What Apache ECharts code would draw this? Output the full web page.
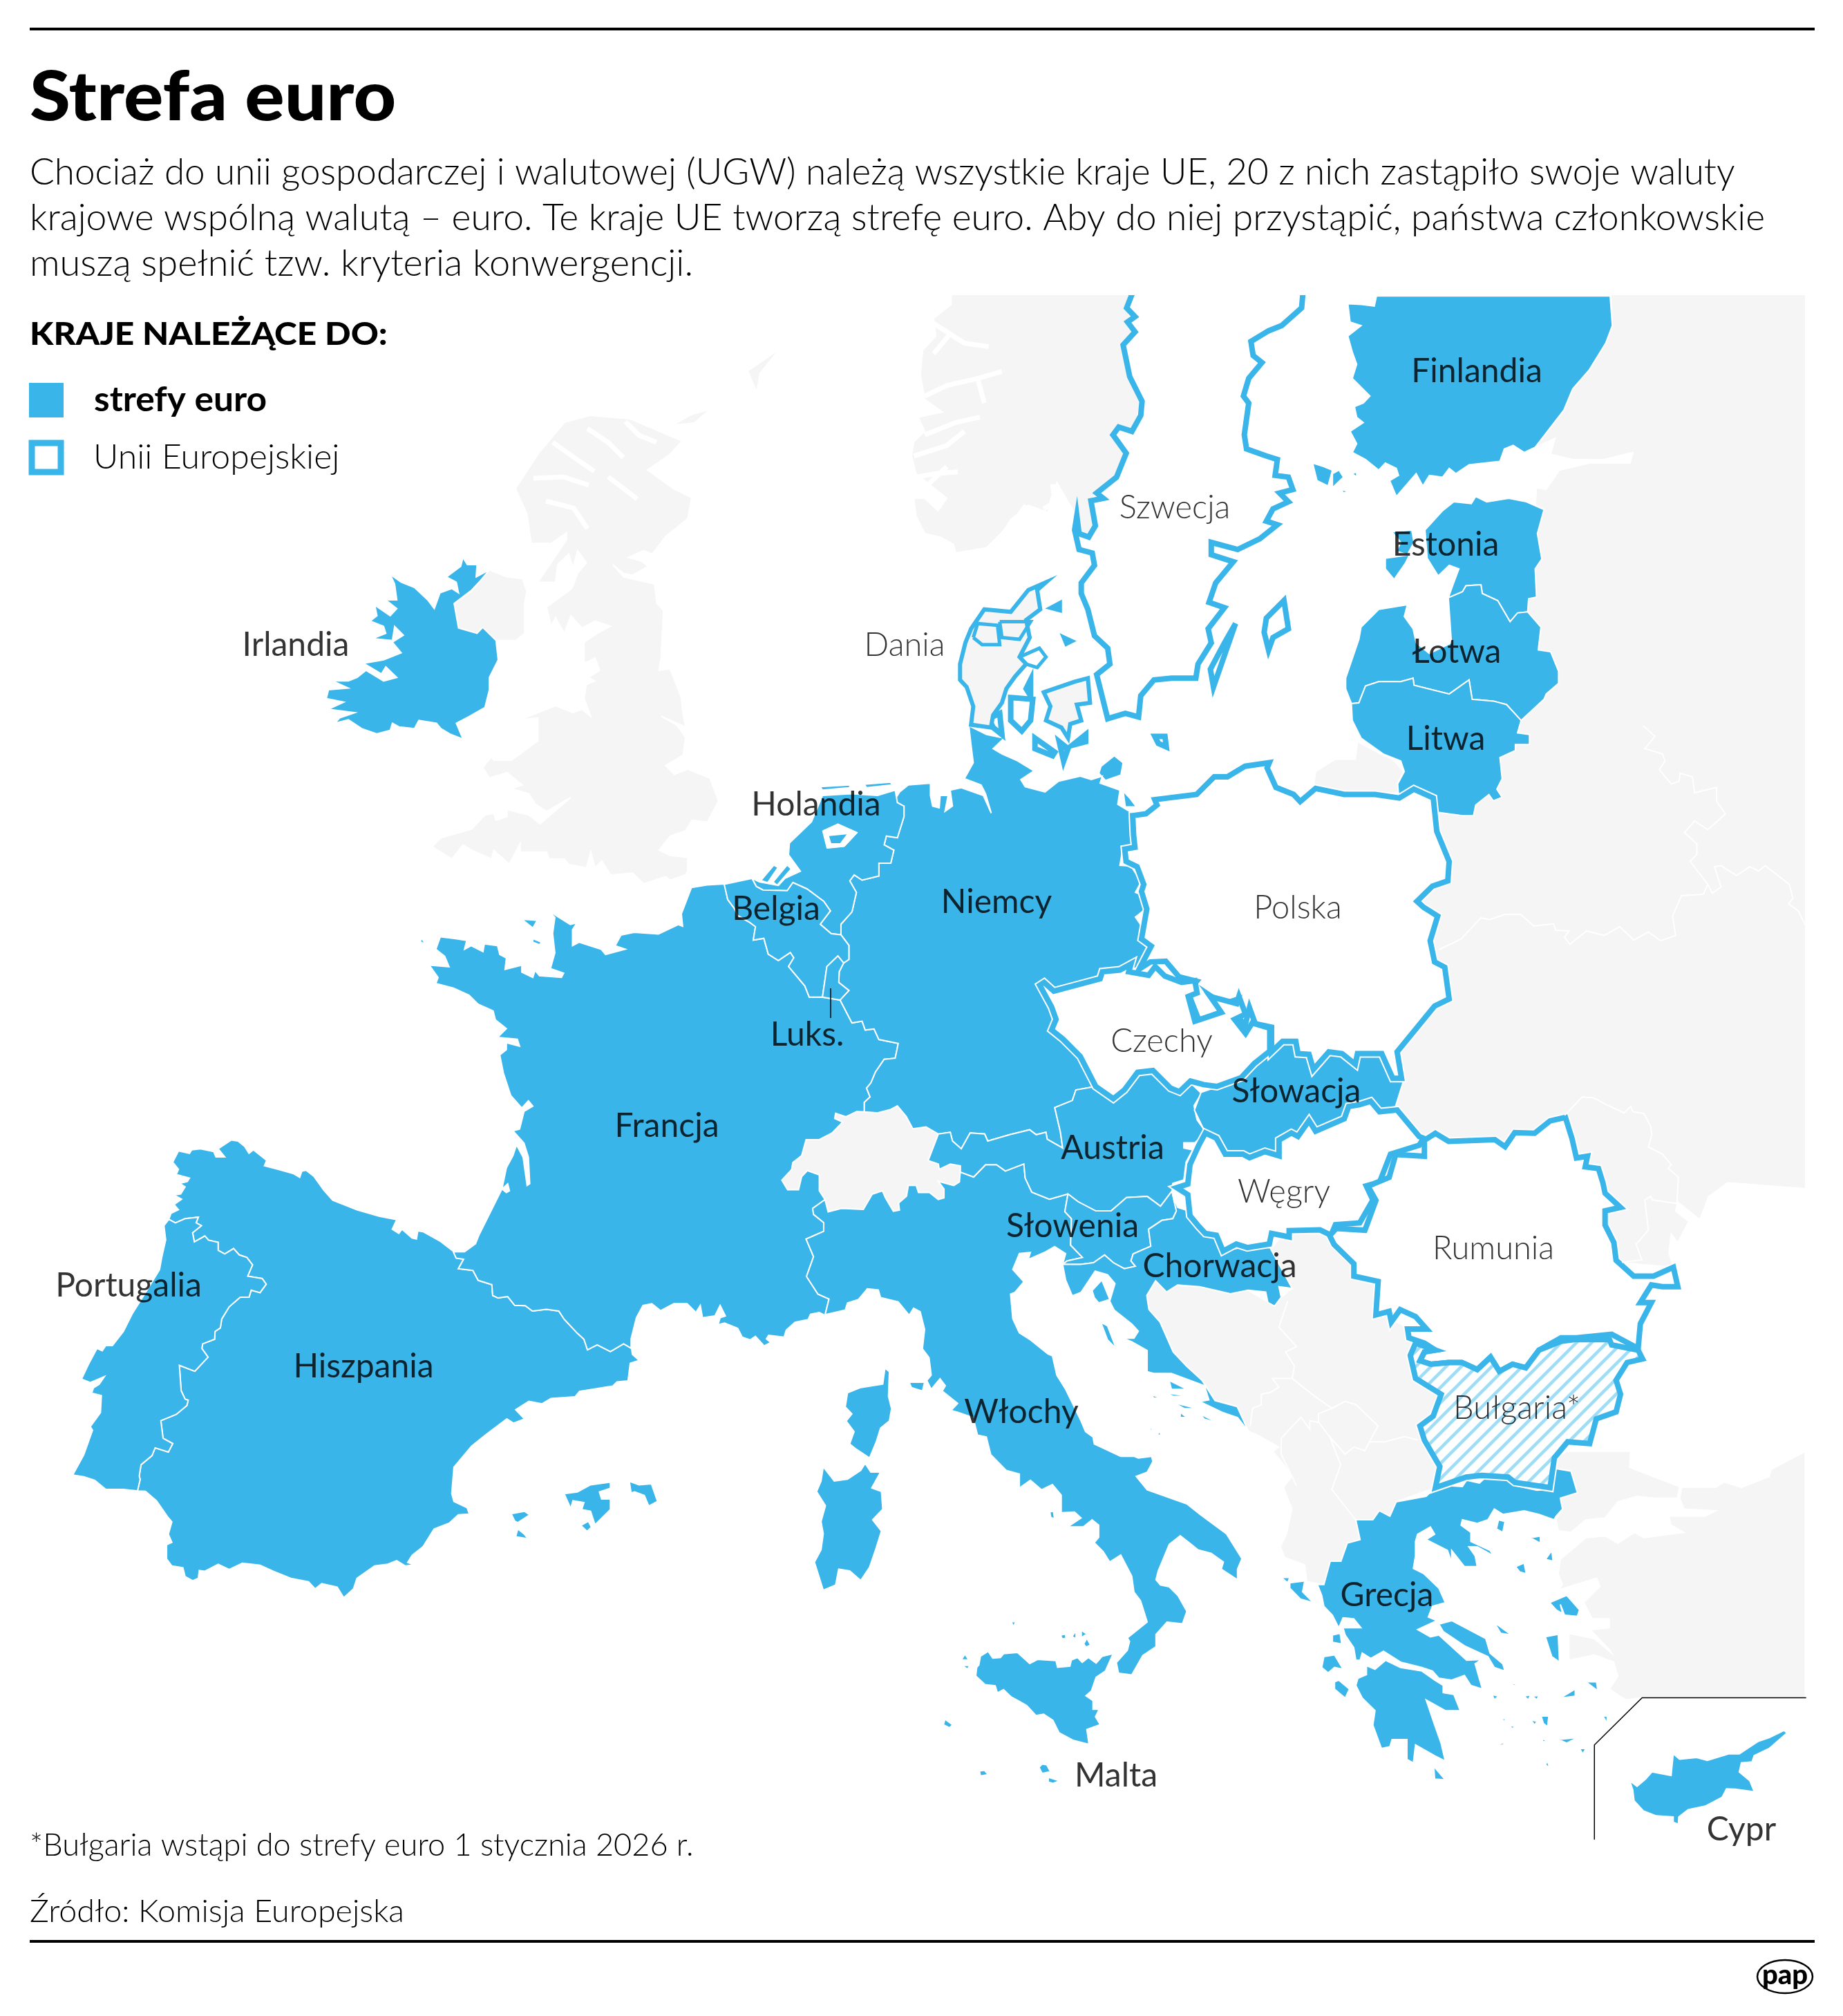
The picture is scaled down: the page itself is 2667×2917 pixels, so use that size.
<!DOCTYPE html>
<html><head><meta charset="utf-8">
<style>html,body{margin:0;padding:0;background:#fff}#c{width:2667px;height:2917px}</style>
<script src="https://cdn.jsdelivr.net/npm/echarts@6/dist/echarts.min.js"></script></head>
<body><div id="c"></div>
<script>
// ---------- text content ----------
const titleText = 'Strefa euro';
const bodyLines = [
 'Chociaż do unii gospodarczej i walutowej (UGW) należą wszystkie kraje UE, 20 z nich zastąpiło swoje waluty',
 'krajowe wspólną walutą – euro. Te kraje UE tworzą strefę euro. Aby do niej przystąpić, państwa członkowskie',
 'muszą spełnić tzw. kryteria konwergencji.'];
const legendTitle = 'KRAJE NALEŻĄCE DO:';
const legendItems = ['strefy euro', 'Unii Europejskiej'];
const footNote = '*Bułgaria wstąpi do strefy euro 1 stycznia 2026 r.';
const sourceNote = 'Źródło: Komisja Europejska';

// ---------- colour groups ----------
const euroNames = ['Irlandia','Francja','Hiszpania','Portugalia','Belgia','Holandia','Luksemburg','Niemcy','Austria','Włochy','Słowenia','Chorwacja','Słowacja','Finlandia','Estonia','Łotwa','Litwa','Grecja','Cypr','Malta'];
const euOnlyNames = ['Szwecja','Dania','Polska','Czechy','Węgry','Rumunia'];

// ---------- labels ----------
const euroLabels = ['Finlandia','Estonia','Irlandia','Łotwa','Litwa','Holandia','Niemcy','Belgia','Luks.','Słowacja','Francja','Austria','Słowenia','Chorwacja','Portugalia','Hiszpania','Włochy','Grecja','Malta','Cypr'];
const euroLabelAt = [[2137,538],[2092,789],[428,934],[2108,944],[2092,1070],[1181,1165],[1442,1306],[1123,1316],[1168,1498],[1876,1580],[965,1630],[1610,1662],[1552,1775],[1765,1833],[186,1861],[526,1978],[1478,2044],[2007,2309],[1615,2570],[2520,2648]];
const euLabels = ['Szwecja','Dania','Polska','Czechy','Węgry','Rumunia','Bułgaria*'];
const euLabelAt = [[1700,735],[1309,934],[1878,1314],[1681,1507],[1858,1725],[2161,1807],[2195,2038]];

// ---------- outlines: zoom-sheet readings, each sheet has its own origin ----------
const sheet = (ox, oy, kx, ky) => f => { const r = []; for (let i = 0; i < f.length; i += 2) r.push([ox + f[i] / kx, oy + f[i + 1] / ky]); return r; };
const z2 = sheet(1300,420,1.568,1.96), z3 = sheet(900,1100,1.568,1.96), z4 = sheet(1500,1400,1.568,1.96),
      z5 = sheet(1700,2100,1.622,1.919), z6 = sheet(0,1600,1.568,1.96), z7 = sheet(500,1200,1.568,1.96),
      z8 = sheet(1000,1750,1.568,1.96), z9 = sheet(300,720,1.568,1.96), z10 = sheet(1620,1050,1.568,1.96), z11 = sheet(1200,2150,2.24,2.8);
const rev = a => a.slice().reverse();

const bFrEs = z6([1028,412,1035,432,1052,435,1040,462,1073,467,1085,495,1116,507,1118,538,1130,545,1152,541,1168,566,1192,567,1208,582,1240,577,1268,582,1280,605,1310,645,1325,662,1333,692,1355,678,1385,697,1415,675,1433,688]);
const bEsPt = z6([383,322,398,332,420,320,450,316,445,332,457,340,437,360,441,386,465,369,473,381,495,387,495,410,510,420,530,405,543,423,560,430,573,451,562,483,595,490,604,506,590,530,570,523,565,543,545,543,520,570,503,605,500,630,488,640,487,662,460,675,458,688,472,713,442,753,407,736,411,808,420,832,427,835,424,850,400,875,365,893,370,943,392,958,382,982,352,970,345,992,320,1018,316,1050,318,1060,312,1092]);
const bFrBe = z3([232,352,240,395,255,420,262,440,290,460,303,472,298,510,322,505,332,550,355,568,382,545,390,560,378,585,415,640,425,672,455,672]);
const bFrLu = z3([455,672,495,680]);
const bFrDe = z3([495,680,522,745,545,740,552,765,572,762,583,792,627,803,620,845,595,848,575,885,565,915,555,930,563,955,550,970,550,997]);
const bFrCh = z7([1177,800,1160,800,1135,815,1112,805,1110,820,1128,830,1105,860,1075,880,1045,880,1035,925,1015,945,1012,965,990,995,1003,1022,1028,1022,1035,985,1048,968,1075,980,1075,1025,1088,1050]);
const bFrIt = z7([1088,1050,1060,1075,1062,1092,1085,1115,1085,1140,1045,1162,1062,1212,1046,1268,1072,1318,1097,1332,1088,1378]);
const bBeNl = z3([295,335,305,358,320,368,375,370,388,347,420,365,458,400,473,427,450,465,475,492,497,495]);
const bBeDe = z3([497,495,515,525,515,565,503,575]);
const bBeLu = z3([503,575,490,555,465,585,455,672]);
const bLuDe = z3([503,575,493,600,492,630,515,653,495,680]);
const bNlDe = z3([640,130,640,160,625,220,600,215,595,240,617,255,610,292,583,292,583,328,545,340,527,325,517,342,532,375,522,430,497,465,497,495]);
const bDeCh = z3([550,997,580,1000,610,990,625,980,645,1010,660,1045,690,1040,718,1060]);
const bDeAt = z3([718,1060,745,1055,750,1080,770,1102,790,1057,823,1060,830,1080,880,1062,925,1048,940,1062,962,1055,965,1075,1000,1100,995,1055,982,985,1022,965,1030,935,1075,925]);
const bAtCh = z3([718,1060,695,1135,718,1145,720,1160,745,1145,768,1150,768,1168]);
const bAtIt = z3([768,1168,798,1182,825,1147,850,1147,870,1165,912,1145,915,1185,930,1225,970,1245,1012,1230]);
const bAtSi = z3([1012,1230,1035,1252,1075,1278,1110,1278,1145,1240,1192,1237,1222,1265,1248,1222]);
const bItSi = z3([1012,1230,1005,1280,1020,1300,1018,1375,1045,1410,1010,1420,1000,1430]);
const bSiHr = z3([1248,1222,1258,1278,1250,1300,1225,1305,1195,1330,1200,1378,1160,1400,1155,1420,1165,1435,1140,1442,1115,1425,1095,1403,1070,1425,1040,1430,1000,1430]);
const bChIt = z7([1088,1050,1095,1085,1125,1075,1175,1078,1195,1035,1218,1025,1225,1045,1243,1083,1257,1080,1255,1060,1273,1040,1277,1010,1295,1010,1300,1030,1325,1030,1345,1050,1358,1045,1358,1020,1345,998,1380,1010,1393,1000,1395,970]);

const coastEsN = z6([1028,412,1000,385,960,357,948,355,945,378,935,375,912,350,905,362,890,350,900,323,860,313,810,295,755,268,735,240,712,200,695,183,685,185,680,203,665,192,630,180,600,170,605,155,575,125,565,135,555,115,540,100,525,97,495,122,510,145,490,145,485,130,455,122,435,125,430,135,405,128,392,160,405,180,400,195,430,205,425,215,408,220,420,230,410,250,395,253,412,265,395,280,405,295,388,305,383,322]);
const coastPt = z6([383,322,372,340,376,380,367,430,362,465,330,530,300,590,280,640,255,680,240,680,232,695,220,688,200,735,185,775,205,785,237,768,225,790,212,800,208,815,230,822,228,870,205,910,210,920,190,990,165,1047,190,1052,215,1062,240,1088,280,1088,312,1092]);
const coastEsS = z6([312,1092,330,1093,355,1120,380,1165,390,1180,382,1215,390,1238,378,1245,378,1285,390,1305,415,1310,420,1335,437,1347,450,1340,452,1318,465,1320,495,1300,520,1315,550,1297,590,1303,620,1320,660,1340,700,1350,715,1370,730,1355,765,1365,780,1395,802,1370,810,1340,850,1305,880,1300,900,1290,920,1305,940,1302,925,1295,935,1275,960,1250,985,1200,1020,1183,1040,1160,1065,1158,1060,1140,1030,1122,1025,1100,1030,1025,1070,965,1100,935,1150,888,1165,900,1190,888,1170,862,1200,838,1230,845,1250,830,1305,825,1315,810,1390,795,1400,783,1425,780,1430,730,1450,722,1435,705,1433,688]);
const isBal = [z6([1280,1100,1310,1095,1340,1075,1385,1067,1385,1085,1360,1095,1365,1115,1385,1115,1385,1145,1350,1188,1340,1150,1320,1145,1325,1125,1300,1120,1295,1142]),
 z6([1428,1065,1450,1075,1478,1072,1492,1122,1472,1135,1462,1105,1440,1095,1432,1098]), z6([1160,1157,1190,1150,1202,1160,1175,1182,1168,1178]),
 z6([1175,1200,1190,1215,1198,1228,1170,1222]), z6([1318,1190,1335,1178,1342,1195,1332,1207])];
const andorra = z6([1272,605,1300,600,1312,625,1305,645,1282,660,1262,645,1268,620]);

const coastFrW = z7([245,1198,270,1198,295,1175,303,1150,355,1020,365,1030,372,1025,368,1005,355,1020,365,960,380,925,388,895,403,930,412,1010,418,1005,415,930,405,890,380,855,395,850,405,800,425,785,415,770,400,790,375,755,358,690,350,640,365,625,365,605,395,615,390,595,345,590,365,565,340,540,335,515,300,495,280,470,245,450,205,437,210,420,190,385,235,390,225,360,205,340,215,305,250,310,275,315,270,340,285,330,312,347,315,325,345,330,350,355,365,365,362,397,400,385,400,405,425,420,430,400,440,415,490,420,495,408,465,395,475,350,470,295,475,250,460,228,478,245,510,270,525,265,515,285,515,330,530,320,580,340,590,355,635,340,612,330,625,300,655,292,710,297,755,270,765,275,762,240,785,165,820,158,860,155]);
const coastFrS = z7([1088,1378,1075,1370,1055,1375,1050,1390,1020,1398,1000,1420,995,1440,960,1435,955,1445,965,1455,950,1465,930,1438,918,1448,900,1440,890,1415,860,1400,845,1405,850,1385,862,1380,850,1350,838,1380,810,1385,805,1350,795,1370,775,1345,745,1345,715,1365,695,1345,675,1350,660,1385,648,1445,648,1468]);
const isFr = [z7([400,255,435,258,425,280]), z7([425,310,445,320,440,327,425,320]), z7([172,308,182,325,170,320])];

const coastDeN = [...z3([1165,155,1125,125,1130,85,1085,65,1090,45,1065,55,1040,45,990,60,960,90,915,75,905,55,935,30,895,0]),
 ...z2([268,1333,235,1315,215,1300,240,1270,200,1260,160,1235,165,1290,170,1340,150,1385]),
 ...z3([777,51,815,70,825,95,838,150,820,100,770,78,745,85,750,130,733,145,740,100,722,100,720,135,705,130,700,100,700,65,650,70,630,90,620,110,630,130,640,130])];
const eastDe = z3([1075,925,1040,840,1000,790,985,735,975,700,965,650,1090,610,1150,590,1175,590,1195,535,1178,515,1190,490,1165,445,1190,420,1185,385,1165,375,1178,345,1155,300,1130,298,1135,260,1160,240,1165,155]);
const isDe = [z2([460,1350,490,1320,510,1340,505,1375,470,1390,455,1370]), z2([510,1420,525,1440,540,1465,515,1465])];
const coastNl = z3([295,335,312,345,355,355,370,335,405,315,378,268,380,235,405,205,430,175,445,130,455,100,520,95,580,100,620,85,625,120,640,130]);
const coastBe = z3([232,352,295,335]);
const isNl = [z3([450,75,520,70,515,78,455,85]), z3([550,68,610,62,612,70,555,78])];
const eastAt = z3([1248,1222,1250,1200,1275,1190,1280,1140,1295,1105,1275,1100,1275,1085,1300,1085,1325,1055,1305,1020,1298,980,1315,945,1290,915,1265,940,1245,930,1205,880,1170,885,1140,935,1115,960,1075,925]);

const coastIt = z8([850,125,825,105,805,120,765,142,770,122,745,125,730,170,755,205,735,235,725,240,730,310,745,350,770,370,810,410,820,415,830,470,850,510,885,600,895,630,912,645,915,665,975,700,1005,700,1015,705,1045,700,1048,715,1035,745,1010,757,1035,795,1125,835,1155,865,1215,920,1250,990,1240,1020,1240,1050,1203,1020,1208,1000,1180,975,1150,965,1130,945,1110,925,1085,950,1065,1010,1060,1025,1055,1050,1065,1065,1085,1070,1105,1095,1125,1140,1115,1175,1080,1170,1055,1205,1055,1240,1025,1265,1000,1320,970,1315,965,1285,990,1250,995,1225,990,1215,1035,1170,1020,1110,1005,1085,1000,1040,975,980,950,1000,935,970,915,945,925,930,925,895,910,880,890,900,855,900,885,875,870,858,840,860,840,810,820,780,795,795,770,768,745,790,745,750,715,740,680,695,670,645,650,640,640,590,605,575,590,570,605,550,570,515,577,500,565,480,545,510,535,485,545,470,540,420,525,395,530,340,520,290,505,280,495,300,470,262,430,250,425,228,400,225,380,255,355,265,350,285,305,298]);
const isIt = [z8([440,450,450,460,448,530,455,565,450,600,430,620,420,660,405,705,375,680,360,665,370,630,352,600,365,580,350,560,355,520,385,505,435,495]),
 z8([300,730,325,770,355,765,385,740,395,720,408,745,430,745,410,790,432,800,435,850,412,880,432,912,420,960,405,1015,385,1052,360,1025,335,1020,328,1065,300,1080,290,1040,280,1000,295,965,300,920,295,885,305,840,285,800,295,770]),
 z11([490,690,515,670,530,698,555,695,565,680,610,675,650,720,675,703,735,708,740,735,780,730,785,705,805,695,820,715,840,695,865,718,885,690,920,680,895,750,865,775,850,830,832,850,855,870,855,905,875,905,863,935,878,967,835,987,842,1047,790,1030,745,1000,725,950,695,925,670,930,640,890,612,870,590,855,565,825,545,838,538,810,505,805,475,770,478,735,485,725]),
 z11([440,682,452,705,428,705]), z11([430,727,456,727,448,742]), z11([750,605,765,600,768,617,755,620]), z11([800,587,800,620,787,610]), z11([817,585,835,600,817,615]),
 z11([835,617,847,645,832,653,825,640]), z11([590,550,605,550,597,570]), z11([375,945,400,968,390,980,370,968]), z11([715,105,727,103,730,133,718,128]), z8([495,490,530,490,525,515,500,505])];
const isMt = [z11([680,1140,690,1127,705,1130,717,1158,690,1165]), z11([710,1180,747,1195,725,1205,710,1200]), z11([487,1155,503,1152,515,1170,490,1175])];

const coastHr = z8([843,157,850,200,865,245,885,235,917,175,945,185,962,210,950,260,960,285,1000,325,1015,345,1005,365,980,365,1000,375,1035,400,1035,460,1050,465,1090,465,1165,500,1175,540,1155,545,1205,575,1240,590,1265,630]);
const inlandHr = z4([455,1245,405,1228,375,1170,340,1130,310,1090,280,1005,255,970,250,930,270,888,295,920,320,900,370,905,440,925,480,915,520,920,525,950,540,960,555,935,550,905,580,910,530,795,480,790,440,800,420,790,390,750,370,720,345,690,320,680]);
const isHr = [z8([910,230,932,200,950,255,925,265,915,250]), z8([930,320,945,330,965,395,945,370]), z8([1085,485,1125,510,1090,510]), z8([1075,520,1135,530,1095,530]), z8([1095,548,1150,565,1120,565]), z8([1155,580,1195,605,1165,595]), z8([1110,575,1125,590,1110,590]), z8([1045,525,1065,535,1050,535]), z8([1042,615,1050,630,1042,625]), z8([1062,630,1068,640,1058,640])];

const skOutline = z10([345,925,370,895,400,895,405,930,430,932,440,975,475,925,505,930,535,960,540,930,595,930,620,1000,645,1005,625,1085,590,1095,570,1065,545,1075,520,1080,510,1115,445,1150,430,1120,405,1165,390,1155,362,1175,362,1220,330,1208,295,1225,280,1215,240,1215,220,1170,195,1155,170,1090,185,1040,220,1025,260,1010,295,960]);
const huOutline = z10([195,1155,220,1170,240,1215,280,1215,295,1225,330,1208,362,1220,362,1175,390,1155,405,1165,430,1120,445,1150,510,1115,520,1080,545,1075,570,1065,590,1095,630,1090,680,1165,690,1170,680,1190,615,1215,590,1295,560,1305,575,1345,545,1410,490,1415,480,1445,455,1430,385,1432,385,1450,345,1440,340,1470,290,1480,265,1470,235,1490,220,1445,195,1440,180,1420,160,1390,155,1330,130,1310,155,1300,160,1245,180,1190]);
const plOutline = z10([30,255,60,250,85,225,80,210,110,205,175,195,215,145,245,145,285,115,340,105,335,120,355,175,395,195,410,215,445,178,510,195,580,195,635,205,668,180,712,205,720,300,748,385,745,440,710,455,675,498,690,515,722,540,705,610,715,670,738,685,748,775,715,795,630,925,640,1000,620,1000,595,930,540,930,535,960,505,930,475,925,440,975,430,932,405,930,400,895,370,895,345,925,345,855,308,845,295,800,285,850,262,815,270,775,235,790,205,765,232,812,180,835,155,755,175,725,135,712,105,668,70,670,45,690,72,625,50,605,62,520,50,470,55,450,40,400,15,385,12,350,35,345,32,310]);
const czOutline = z3([958,630,980,655,1040,635,1085,620,1090,600,1130,595,1155,578,1150,600,1195,610,1210,585,1232,612,1270,630,1300,625,1305,660,1285,670,1300,740,1360,715,1335,670,1395,690,1400,670,1415,720,1390,735,1415,775,1430,745,1470,760,1470,825,1435,860,1405,900,1350,925,1320,920,1290,910,1265,940,1245,930,1205,880,1170,885,1140,935,1115,960,1075,925,1040,840,1000,790,975,765,985,735,975,700,948,638]);
const roOutline = z4([905,470,935,493,1040,488,1063,508,1085,468,1130,470,1165,435,1200,425,1215,485,1225,540,1250,535,1245,565,1275,570,1285,610,1290,640,1325,680,1290,690,1290,730,1310,780,1315,830,1355,875,1400,875,1445,850,1455,905,1420,905,1395,900,1370,950,1395,950,1370,1010,1365,1080,1305,1040,1225,1050,1190,1050,1140,1085,1110,1135,1080,1125,1050,1145,1030,1105,1000,1140,965,1120,935,1120,895,1125,870,1115,880,1090,905,1085,880,1065,845,1050,842,1025,885,1025,860,990,825,970,805,1005,800,975,770,985,775,890,720,875,720,840,675,785,665,760,680,740,745,745,770,660,752,620,800,595,815,530,880,535,880,490]);
const bgOutline = z4([860,1065,848,1100,860,1165,918,1210,900,1272,870,1300,880,1340,915,1415,905,1475,975,1445,1010,1440,1070,1445,1085,1460,1165,1475,1175,1390,1205,1345,1255,1350,1270,1280,1315,1260,1325,1210,1315,1170,1340,1120,1375,1110,1365,1085,1305,1070,1300,1055,1220,1055,1190,1060,1140,1085,1110,1135,1080,1125,1050,1145,1030,1105,1000,1140,965,1120,935,1120,895,1125,870,1115,880,1090,905,1085]);

const seOutline = z2([540,-20,518,50,537,75,520,90,537,118,510,155,525,245,553,315,550,355,530,400,500,388,487,410,517,462,495,530,450,575,465,590,437,597,447,668,432,700,410,690,405,640,400,680,410,735,440,745,445,780,415,830,415,860,430,905,445,980,475,1015,480,1060,450,1090,470,1190,475,1215,515,1200,545,1210,550,1150,580,1105,620,1100,675,1100,680,1060,710,1000,703,960,740,900,705,885,720,830,760,770,710,750,710,715,770,735,820,705,860,665,835,655,850,620,885,600,865,575,895,565,885,530,855,525,860,480,835,470,790,450,785,410,795,320,783,300,795,250,825,205,805,185,800,145,840,115,870,100,915,50,920,-20]);
const isSe = [z2([875,880,885,960,850,985,840,1020,830,970,835,930]), z2([765,945,740,1000,708,1075,715,1125])];
const dkMain = z2([335,828,315,850,322,905,290,935,298,985,275,1040,290,1060,265,1095,245,1130,235,1170,215,1205,210,1240,165,1232,170,1180,155,1125,140,1105,140,1060,152,1000,165,960,195,905,255,912,295,850]);
const dkSeeland = z2([330,1140,400,1110,430,1100,435,1170,405,1175,415,1220,390,1230,385,1270,370,1240,335,1220,345,1180]);
const isDk = [z2([255,1155,305,1160,300,1220,280,1250,255,1220]), z2([310,1270,355,1310,350,1320,310,1300]), z2([365,1280,385,1300,375,1335]), z2([395,1290,425,1260,425,1280]), z2([205,1215,230,1200,235,1260,215,1240]), z2([300,1105,300,1150,290,1130]), z2([350,900,365,890,365,905]), z2([378,988,390,995,382,1000]), z2([582,1265,605,1265,608,1295,590,1285])];
const dkLoops = [z2([170,985,190,1005,230,1005,225,950,180,945,170,985]), z2([230,940,300,940,275,990,235,985,230,940]), z2([275,1040,320,1015,335,1040,315,1070,290,1060])];

const fiOutline = z2([1085,16,1080,45,1050,40,1020,38,1025,90,1050,100,1020,130,1030,175,1040,210,1030,250,1070,300,1055,320,1035,330,1040,360,1055,375,1025,400,1040,435,1030,460,1060,480,1090,510,1105,490,1130,505,1135,525,1115,540,1130,585,1175,520,1190,555,1205,525,1235,530,1250,505,1265,520,1295,495,1365,485,1375,450,1395,440,1420,460,1445,445,1510,340,1530,280,1568,225,1605,150,1620,100,1615,16]);
const isFi = [z2([940,490,965,500,985,510,975,555,950,540]), z2([985,520,1000,510,1010,530,985,560]), z2([1030,520,1040,515,1040,530]), z2([1005,565,1020,570,1010,575])];
const eeOutline = z2([1195,680,1235,625,1260,600,1300,605,1310,585,1335,600,1385,590,1425,600,1465,622,1450,690,1460,762,1445,790,1448,870,1430,875,1428,912,1405,915,1388,940,1360,880,1325,860,1322,835,1288,838,1280,855,1248,872,1260,830,1272,790,1250,780,1225,810,1200,760]);
const isEe = [z2([1120,685,1165,680,1170,715,1155,750,1130,740,1140,715]), z2([1105,760,1160,750,1150,775,1125,820,1105,790])];
const lvOutline = z2([1248,872,1280,855,1288,838,1322,835,1325,860,1360,880,1388,940,1405,915,1428,912,1458,955,1452,1020,1480,1025,1498,1080,1498,1115,1470,1145,1465,1160,1413,1220,1380,1175,1350,1165,1302,1160,1295,1105,1250,1145,1170,1120,1168,1100,1140,1110,1090,1110,1060,1122,1045,1170,1028,1172,1015,1130,1015,1100,1045,990,1050,955,1090,905,1155,892,1148,925,1168,960,1175,1000,1205,1030,1255,1000]);
const ltOutline = z2([1028,1172,1045,1170,1060,1122,1090,1110,1140,1110,1168,1100,1170,1120,1250,1145,1295,1105,1302,1160,1350,1165,1380,1175,1413,1220,1405,1255,1432,1260,1432,1288,1400,1288,1400,1305,1365,1325,1370,1385,1358,1415,1370,1438,1350,1448,1340,1430,1310,1460,1305,1490,1280,1490,1220,1480,1215,1440,1170,1412,1135,1430,1133,1400,1148,1365,1140,1335,1100,1315,1050,1270,1030,1220]);

const grMain = z5([605,108,640,95,675,98,685,80,715,88,730,72,790,75,800,95,850,108,880,105,895,48,930,55,945,115,905,130,910,160,895,180,890,190,855,175,820,165,770,175,750,160,735,190,710,200,675,190,672,205,695,225,695,250,740,275,748,290,710,265,690,265,705,290,710,320,680,320,650,275,650,300,655,325,640,275,590,245,610,230,600,210,570,230,565,250,565,290,560,325,585,340,620,380,635,420,605,430,595,460,615,470,570,495,600,515,620,510,685,580,720,578,705,590,722,660,695,650,680,622,650,635,620,630,605,610,580,600,530,585,490,555,460,575,440,560,435,580,425,580,420,545,400,510,395,490,437,490,420,465,395,462,385,490,370,455,350,430,345,400,335,370,350,370,365,305,390,305,405,255,435,245,425,190,465,190,480,165,505,180,520,140,590,125]);
const grPelop = z5([450,595,470,605,495,580,530,600,580,610,610,635,630,650,630,670,655,675,670,720,635,720,590,690,610,760,625,810,635,860,610,845,565,815,560,865,545,855,545,800,510,800,505,820,485,825,465,760,470,720,440,685,425,650,430,630,450,620]);
const isGr = [z5([620,480,650,470,730,520,740,560,770,590,775,610,750,600,735,570,680,540,630,500]), z5([760,190,775,195,770,225,755,215]), z5([835,240,858,235,858,255]), z5([880,420,920,400,950,440,945,458,915,455,905,425,910,450,895,440]), z5([870,515,900,508,903,585,885,570]), z5([800,320,820,310,825,340,810,335]), z5([870,300,885,275,888,305]), z5([750,475,790,510,765,505]), z5([250,350,270,350,265,365]), z5([270,365,305,360,300,390,325,420,295,410,270,380]), z5([370,510,388,505,392,535,370,530]), z5([350,570,375,565,395,605,375,600,360,615,345,600]), z5([375,640,385,635,410,660,400,685,375,660]), z5([608,875,635,912,610,910]), z5([745,675,760,680,750,690]), z5([770,740,778,745,770,750]), z5([835,745,850,750,845,760]), z5([860,735,878,735,875,765,865,755]), z5([900,800,945,795,920,810]), z5([905,685,940,660,940,680]), z5([965,640,990,640,993,665]), z5([745,820,780,805,770,815]), z5([790,640,810,655,795,650]), z5([1005,735,1015,735,1015,755]), z5([950,825,965,825,958,840]), z5([865,798,875,808,862,805]), z5([840,680,855,678,850,690]), z5([875,860,880,880,870,870]), z5([820,680,835,676,830,690]), z5([785,760,800,765,792,770])];
const cyOutline = z5([1068,915,1085,930,1105,910,1120,890,1165,900,1170,840,1185,855,1225,850,1250,858,1300,840,1325,840,1370,805,1395,795,1430,775,1437,782,1395,825,1360,845,1355,862,1330,865,1325,890,1350,915,1360,945,1315,938,1295,937,1285,960,1245,985,1205,995,1183,1015,1182,1035,1170,1030,1170,1015,1130,1012,1100,998,1078,970,1075,940]);
const ieOutline = z9([415,218,440,240,470,255,500,290,515,315,528,270,555,258,570,270,565,240,543,225,575,195,580,170,590,190,612,190,610,225,640,205,620,235,600,262,560,300,570,370,612,385,625,368,655,405,660,460,640,510,640,545,630,595,595,620,565,640,580,685,550,670,530,655,520,640,480,632,470,655,435,650,420,640,415,660,385,670,350,655,320,630,290,640,300,625,335,610,275,600,310,580,270,570,275,545,320,540,285,520,320,520,340,510,360,490,400,520,430,510,405,480,395,500,355,470,400,460,440,440,420,410,445,390,425,365,420,405,375,400,405,385,400,365,370,350,385,335,380,305,415,335,430,315,405,290,430,290,425,245]);

// non-EU land
const real = sheet(0,0,1,1);
const ukMain = [...real([746,707,780,655,817,611,854,601,912,606,987,638,970,657,937,680,974,707,1001,720]),
 ...z9([1100,0,1090,60,1040,110,1010,160,990,150,955,170,985,180,1000,195,965,220,945,215,920,190,945,225,1015,245,1020,300,1035,320,1030,450,1025,490,1050,485,1075,565,1078,600,1085,650,1030,620,1065,645,1085,680,1080,730,1040,760,1060,785,1090,770,1140,795,1160,860,1135,920,1100,915,1085,945,1050,960,1025,1000,1050,1015,1090,1020,1090,1060,1085,1070,1050,1085,1040,1075,990,1095,965,1065,915,1070,895,1030,880,1050,870,1005,860,1050,820,1040,810,1025,775,1025,770,1005,710,1005,710,980,685,1040,650,1000,645,1025,600,1000,580,985,555,1025,510,990,530,965,600,940,630,900,650,895,655,915,680,905,680,885,730,900,755,925,825,850,770,890,745,870,730,840,690,825,715,815,680,780,640,795,625,765,645,735,650,745,690,745,750,690,750,625,710,630,750,610,790,590,830,610,850,600,870,620,855,570,860,530,880,520,865,510,890,490,880,455,855,470,855,410,885,385,915,365,880,350,850,370,825,335,810,385,790,340,780,365,770,310,825,260,830,250,840,215,860,185,840,150,830,200,820,160,795,190,790,240,750,240,815,120,815,100,780,130,735,130,725,45])];
const niOutline = z9([640,205,620,235,600,265,560,300,570,370,612,385,625,368,655,405,700,405,720,385,720,300,725,265,715,230,680,225]);
const ukIslands = [real([1082,537,1128,505,1100,540,1095,567]), real([974,615,1000,600,1028,592,1005,612])];
const ukFjords = [real([800,640,835,665,860,682]), real([850,620,880,640,902,662]), real([772,692,815,690,852,702]), real([880,690,900,705,922,722]), real([790,725,830,735,850,765]), real([905,610,925,630,950,640])];
const noOutline = z2([120,-20,540,-20,518,50,537,118,510,155,525,245,553,315,530,400,500,388,517,462,495,530,450,575,437,597,447,668,432,700,410,690,405,640,385,600,360,545,345,595,340,630,295,610,255,650,240,680,200,730,130,745,125,720,95,700,60,690,40,640,35,590,60,590,90,625,110,590,40,520,30,470,35,430,60,400,45,360,100,345,60,310,50,240,55,170,85,130,80,80,120,40]);
const noFjords = [z2([75,90,150,150,205,160]), z2([120,120,80,180]), z2([235,230,180,250,195,320]), z2([180,250,110,270,60,300]), z2([185,360,130,375,60,410]), z2([150,400,110,440,35,470]), z2([135,515,85,520,40,530]), z2([110,500,60,560,95,620]), z2([290,610,260,660,230,700]), z2([350,550,355,600,330,620])];
const ruEast = [...z2([1615,-20,2059,-20,2059,2548]), ...z4([1568,610,1525,650,1505,715,1455,665,1450,690,1480,720,1455,780,1440,755,1435,810,1445,850,1000,800]), ...z10([500,1050,500,500]), ...z2([1250,1300,1400,800,1465,622,1445,610,1448,560,1470,565,1500,510,1568,490,1660,490,1667,460,1600,480,1530,480,1480,465,1490,420,1445,445,1510,340,1530,280,1568,225,1605,150,1620,100])];
const kaliningrad = z10([445,130,440,175,510,195,580,195,635,190,630,165,645,130,620,95,585,75,540,45,535,95,490,95]);
const balkans = [...z4([270,890,300,900,370,905,480,915,520,945,540,950,580,910,530,800,570,740,640,740,665,760,675,785,720,840,720,875,775,890,770,985,800,970,810,1000,840,1020,840,1050,860,1065,845,1100,860,1165,920,1210,900,1270,870,1300,880,1340,915,1420,905,1480]),
 ...z5([590,110,520,140,505,180,480,165,465,190,425,190,435,245,405,255,390,305,365,305,350,370,310,362,305,315,258,295,240,240,250,260,262,230,275,160,255,100,275,70,255,35,230,0]),
 ...z4([550,1360,500,1325,480,1315,455,1245,405,1228,375,1170,340,1130,310,1090,280,1005,255,970,250,930])];
const trEurope = z5([920,0,1070,0,1068,45,1185,98,1180,130,1130,130,1085,125,1040,140,1010,185,965,190,930,225,900,220,895,190,910,160,905,130,945,115,930,55,895,48,890,20]);
const trAsia = z5([1190,100,1270,100,1290,85,1330,100,1395,70,1400,50,1480,0,1480,684,1097,684,1060,690,1045,680,1020,660,1040,625,1030,585,985,565,925,580,925,505,985,520,1025,560,1020,550,975,495,1020,490,1020,465,980,465,960,420,998,375,990,352,900,385,910,370,900,340,905,300,935,270,965,240,1010,235,1040,255,1080,225,1100,240,1195,225,1165,205,1160,180,1245,180,1270,165,1195,160,1185,130]);

// thin white lines inside the grey land and Zeeland / IJsselmeer water
const greyBorders = [
 z4([570,945,550,1020,590,1075,565,1090,585,1130,580,1165,535,1165,550,1190,530,1205,510,1210,510,1240,490,1250,485,1300]),
 z4([580,1165,625,1210,670,1250,640,1265,640,1290,620,1285,620,1310,600,1275,555,1335,555,1380,590,1470]),
 z4([670,1250,700,1230,725,1240,775,1300,755,1345,790,1345,835,1330,865,1340]),
 z4([640,1290,665,1330,700,1380,720,1360,745,1370,755,1345]),
 z4([665,1330,690,1410,670,1480,725,1568]),
 z10([725,635,775,605,820,545,840,550,875,535,910,535,940,568,985,562,990,580,1020,582,1010,600,1022,620,1060,582,1100,595,1135,570,1167,608,1200,585,1228,610,1262,595,1255,540,1275,482,1325,478,1335,450,1295,385,1310,365,1310,335,1282,303,1305,270,1335,295,1375,250,1355,215,1355,175,1305,190,1300,145,1272,135,1270,158,1252,165,1225,125,1238,100,1232,80,1192,65,1215,30,1188,0]),
 z10([1335,450,1345,475,1365,458,1350,400,1365,397,1400,425,1430,400,1450,412,1465,397,1520,450,1528,490,1518,505,1540,525,1556,565]),
 z10([1010,1105,1050,1053,1075,1055,1105,1075,1145,1098,1160,1080,1165,1095,1190,1100,1205,1135,1208,1160,1200,1195,1232,1215,1252,1245,1245,1255,1268,1280,1265,1355,1210,1345,1205,1335,1192,1345,1200,1430,1180,1460,1172,1470,1185,1515,1140,1522])];
const waterCuts = [z3([455,200,490,180,535,205,505,245,465,250]), z3([310,310,350,285,372,272,405,315,385,318,365,300,335,325,360,335,355,355,325,345])];
const waterIslands = [z3([470,215,510,210,495,235,475,235]), z3([318,340,345,300,352,305,330,345]), z3([345,345,375,300,382,308,352,352])];
const wMask = real([0,0,2667,0,2667,427,0,427]);
const mFrame = real([0,0,2667,0,2667,2917,0,2917]);

// ---------- build the map ----------
const poly = (name, ...rings) => ({ type:'Feature', properties:{name}, geometry:{ type:'MultiPolygon', coordinates: rings.map(r => [[...r, r[0]]]) } });
const features = [
 poly('ramka', mFrame),
 poly('Norwegia', noOutline), poly('Wielka Brytania', ukMain, ...ukIslands), poly('Irlandia Północna', niOutline),
 poly('Wschód', ruEast), poly('Obwód królewiecki', kaliningrad), poly('Bałkany', balkans), poly('Turcja', trAsia, trEurope),
 poly('Szwajcaria', [...bDeCh, ...bAtCh, ...rev(bChIt), ...rev(bFrCh)]), poly('Andora', andorra),
 poly('Irlandia', ieOutline),
 poly('Hiszpania', [...coastEsN, ...bEsPt, ...coastEsS, ...rev(bFrEs)], ...isBal),
 poly('Portugalia', [...rev(bEsPt), ...coastPt]),
 poly('Francja', [...coastFrW, ...bFrBe, ...bFrLu, ...bFrDe, ...bFrCh, ...bFrIt, ...coastFrS, ...rev(bFrEs)], ...isFr),
 poly('Włochy', [...coastIt, ...rev(bFrIt), ...bChIt, ...bAtIt, ...bItSi], ...isIt),
 poly('Malta', ...isMt),
 poly('Niemcy', [...bNlDe, ...bBeDe, ...bLuDe, ...bFrDe, ...bDeCh, ...bDeAt, ...eastDe, ...coastDeN], ...isDe),
 poly('Holandia', [...coastNl, ...bNlDe, ...rev(bBeNl)], ...isNl),
 poly('Belgia', [...coastBe, ...bBeNl, ...bBeDe, ...bBeLu, ...rev(bFrBe)]),
 poly('Luksemburg', [...rev(bBeLu), ...bLuDe, ...rev(bFrLu)]),
 poly('Austria', [...rev(bDeAt), ...bAtCh, ...bAtIt, ...bAtSi, ...eastAt]),
 poly('Słowenia', [...rev(bAtSi), ...bItSi, ...rev(bSiHr)]),
 poly('Chorwacja', [...bSiHr, ...coastHr, ...inlandHr], ...isHr),
 poly('Słowacja', skOutline),
 poly('Finlandia', fiOutline, ...isFi), poly('Estonia', eeOutline, ...isEe), poly('Łotwa', lvOutline), poly('Litwa', ltOutline),
 poly('Grecja', grMain, grPelop, ...isGr), poly('Cypr', cyOutline),
 poly('woda', ...waterCuts), poly('wyspy', ...waterIslands),
 poly('halo', plOutline, czOutline, huOutline, roOutline, bgOutline),
 poly('Szwecja', seOutline, ...isSe), poly('Dania', ...isDk), poly('Jutlandia', dkMain, dkSeeland),
 poly('Polska', plOutline), poly('Czechy', czOutline), poly('Węgry', huOutline), poly('Rumunia', roOutline), poly('Bułgaria', bgOutline),
 poly('maska', wMask)
];
echarts.registerMap('europa', { type:'FeatureCollection', features });

const hatch = document.createElement('canvas'); hatch.width = 22; hatch.height = 22;
{ const g = hatch.getContext('2d'); g.fillStyle = '#fff'; g.fillRect(0,0,22,22); g.strokeStyle = '#9fdcf5'; g.lineWidth = 4.5;
  [[-11,11,11,-11],[0,22,22,0],[11,33,33,11]].forEach(l => { g.beginPath(); g.moveTo(l[0],l[1]); g.lineTo(l[2],l[3]); g.stroke(); }); }

const BLUE = '#3ab5ea', GREY = '#f5f5f5', INK = '#000';
const regionStyle = name => {
  if (name === 'ramka') return { areaColor:'rgba(0,0,0,0)', borderWidth:0 };
  if (name === 'maska' || name === 'woda') return { areaColor:'#fff', borderColor:'#fff', borderWidth:name==='maska'?0:1 };
  if (name === 'halo') return { areaColor:'#fff', borderColor:'#fff', borderWidth:12 };
  if (name === 'wyspy') return { areaColor:BLUE, borderWidth:0 };
  if (name === 'Bułgaria') return { areaColor:{ image:hatch, repeat:'repeat' }, borderColor:BLUE, borderWidth:8 };
  if (name === 'Jutlandia') return { areaColor:GREY, borderColor:BLUE, borderWidth:6 };
  if (euOnlyNames.includes(name)) return { areaColor:'#fff', borderColor:BLUE, borderWidth:8 };
  if (euroNames.includes(name)) return { areaColor:BLUE, borderColor:'#fff', borderWidth:2 };
  return { areaColor:GREY, borderColor:'#fff', borderWidth:2 };
};

const txt = (text, x, y, font, sx, extra) => ({ type:'text', z:100, x, y, scaleX:sx||1, silent:true, style:Object.assign({ text, font, fill:INK, align:'left', verticalAlign:'middle' }, extra||{}) });
const rule = (x1,y1,x2,y2,w) => ({ type:'line', z:100, silent:true, shape:{x1,y1,x2,y2}, style:{ stroke:INK, lineWidth:w } });

const chart = echarts.init(document.getElementById('c'), null, { renderer:'canvas', width:2667, height:2917 });
chart.setOption({
  backgroundColor:'#fff', animation:false,
  geo:{ map:'europa', left:0, top:0, width:2667, height:2917, roam:false, silent:true,
    projection:{ project:p=>[p[0],p[1]], unproject:p=>[p[0],p[1]] },
    label:{show:false}, emphasis:{disabled:true}, select:{disabled:true},
    itemStyle:{ areaColor:GREY, borderColor:'#fff', borderWidth:2 },
    regions: features.map(f => ({ name:f.properties.name, silent:true, itemStyle:regionStyle(f.properties.name) })) },
  series:[
   { type:'lines', coordinateSystem:'geo', polyline:true, silent:true, z:3, lineStyle:{ color:'#fff', width:2, opacity:1 }, data:greyBorders.map(coords=>({coords})) },
   { type:'lines', coordinateSystem:'geo', polyline:true, silent:true, z:3, lineStyle:{ color:'#fff', width:7, opacity:1 }, data:[...noFjords, ...ukFjords].map(coords=>({coords})) },
   { type:'lines', coordinateSystem:'geo', polyline:true, silent:true, z:4, lineStyle:{ color:BLUE, width:5, opacity:1 }, data:dkLoops.map(coords=>({coords})) },
   { type:'scatter', coordinateSystem:'geo', silent:true, z:20, symbolSize:1, itemStyle:{color:'rgba(0,0,0,0)'},
     label:{ show:true, position:'inside', formatter:'{b}', fontFamily:'Lato', fontWeight:400, fontSize:48, color:INK },
     labelLayout:{hideOverlap:false},
     data:euroLabels.map((name,i)=>({ name, value:euroLabelAt[i] })) },
   { type:'scatter', coordinateSystem:'geo', silent:true, z:20, symbolSize:1, itemStyle:{color:'rgba(0,0,0,0)'},
     label:{ show:true, position:'inside', formatter:'{b}', fontFamily:'Lato', fontWeight:300, fontSize:47, color:INK },
     labelLayout:{hideOverlap:false},
     data:euLabels.map((name,i)=>({ name, value:euLabelAt[i] })) }
  ],
  graphic:{ elements:[
    rule(43,42,2626,42,4), rule(43,2809,2626,2809,4),
    txt(titleText,43,142,'900 100px Lato',1.07),
    txt(bodyLines[0],43,250,'300 53px Lato',1),
    txt(bodyLines[1],43,316,'300 53px Lato',1.009),
    txt(bodyLines[2],43,382,'300 53px Lato',1.022),
    txt(legendTitle,43,484,'900 46px Lato',1.077),
    { type:'rect', z:100, silent:true, shape:{x:42,y:554,width:50,height:50}, style:{fill:BLUE} },
    { type:'rect', z:100, silent:true, shape:{x:46,y:641,width:42,height:42}, style:{fill:'#fff',stroke:BLUE,lineWidth:9} },
    txt(legendItems[0],136,579,'700 50px Lato',1.03), txt(legendItems[1],135,662,'300 50px Lato',1),
    txt(footNote,43,2670,'300 46px Lato',0.981), txt(sourceNote,43,2766,'300 46px Lato',1.014),
    rule(1202,1430,1202,1473,1.5),
    { type:'polyline', z:100, silent:true, shape:{ points:z5([985,1078,985,815,1097,684,1482,684]) }, style:{ stroke:INK, lineWidth:1.5, fill:null } },
    { type:'ellipse', z:100, silent:true, shape:{cx:2583,cy:2860,rx:40,ry:24}, style:{ fill:'#fff', stroke:INK, lineWidth:2.5 } },
    txt('pap',2583,2858,'900 40px Lato',1,{align:'center'})
  ]}
});
</script></body></html>
